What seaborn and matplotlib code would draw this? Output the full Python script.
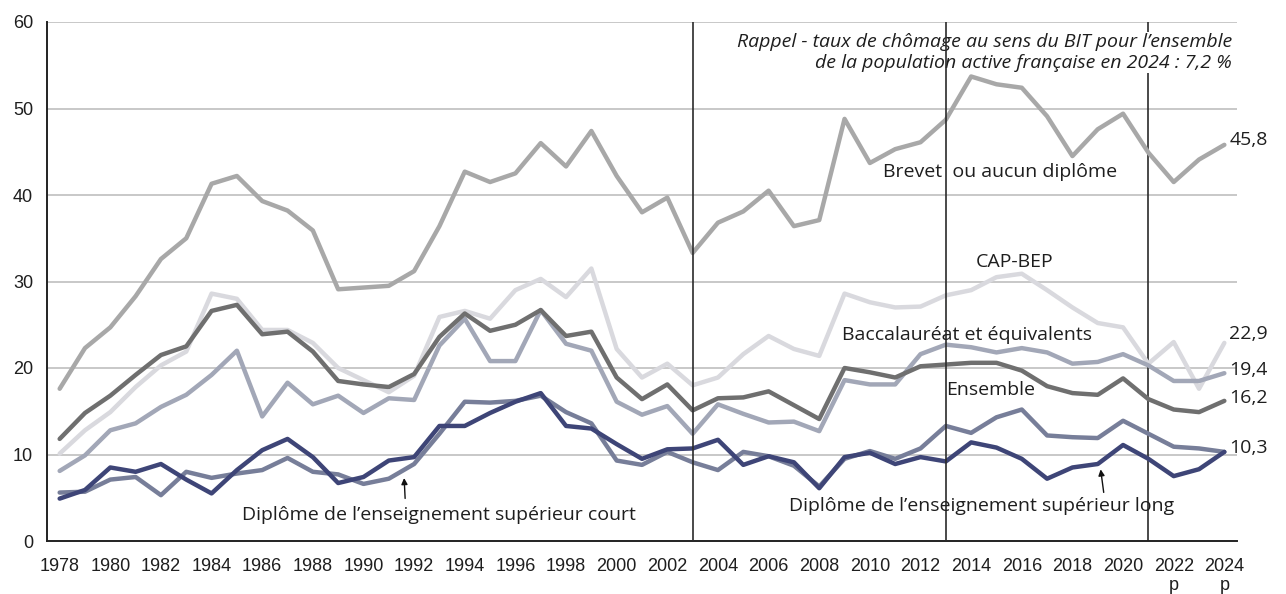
import numpy as np
import pandas as pd
import matplotlib
matplotlib.use("Agg")
import matplotlib.pyplot as plt
from matplotlib import font_manager
import seaborn as sns

years = list(range(1978, 2025))

brevet = [17.6, 22.3, 24.7, 28.3, 32.6, 35.0, 41.3, 42.2, 39.3, 38.2, 35.9, 29.1, 29.3, 29.5, 31.2, 36.4,
          42.7, 41.5, 42.5, 46.0, 43.3, 47.4, 42.2, 38.0, 39.7, 33.3, 36.8, 38.1, 40.5, 36.4, 37.1, 48.8,
          43.7, 45.3, 46.1, 48.7, 53.7, 52.8, 52.4, 49.1, 44.5, 47.6, 49.4, 44.9, 41.5, 44.1, 45.8]
cap_bep = [10.1, 12.8, 14.9, 17.8, 20.3, 21.9, 28.6, 28.0, 24.4, 24.4, 22.9, 20.0, 18.6, 17.2, 19.1, 25.9,
           26.6, 25.7, 29.0, 30.3, 28.2, 31.5, 22.2, 18.9, 20.5, 18.0, 18.9, 21.6, 23.7, 22.2, 21.4, 28.6,
           27.6, 27.0, 27.1, 28.4, 29.0, 30.5, 30.9, 29.0, 27.0, 25.2, 24.7, 20.5, 23.0, 17.6, 22.9]
bac = [8.1, 9.9, 12.8, 13.6, 15.5, 16.9, 19.2, 22.0, 14.4, 18.3, 15.8, 16.8, 14.8, 16.5, 16.3, 22.6,
       25.7, 20.8, 20.8, 26.7, 22.8, 22.0, 16.1, 14.6, 15.6, 12.4, 15.8, 14.7, 13.7, 13.8, 12.7, 18.6,
       18.1, 18.1, 21.6, 22.7, 22.4, 21.8, 22.3, 21.8, 20.5, 20.7, 21.6, 20.3, 18.5, 18.5, 19.4]
ensemble = [11.8, 14.8, 16.8, 19.2, 21.5, 22.5, 26.6, 27.3, 23.9, 24.2, 21.9, 18.5, 18.1, 17.8, 19.3, 23.6,
            26.3, 24.3, 25.0, 26.7, 23.7, 24.2, 18.9, 16.4, 18.1, 15.1, 16.5, 16.6, 17.3, 15.7, 14.1, 20.0,
            19.5, 18.9, 20.2, 20.4, 20.6, 20.6, 19.7, 17.9, 17.1, 16.9, 18.8, 16.4, 15.2, 14.9, 16.2]
sup_court = [5.6, 5.7, 7.1, 7.4, 5.3, 8.0, 7.3, 7.8, 8.2, 9.6, 8.0, 7.7, 6.6, 7.2, 8.9, 12.4,
             16.1, 16.0, 16.2, 16.8, 14.9, 13.6, 9.3, 8.8, 10.3, 9.1, 8.2, 10.3, 9.8, 8.7, 6.3, 9.5,
             10.4, 9.5, 10.7, 13.3, 12.5, 14.3, 15.2, 12.2, 12.0, 11.9, 13.9, 12.4, 10.9, 10.7, 10.3]
sup_long = [4.9, 5.9, 8.5, 8.0, 8.9, 7.1, 5.5, 8.2, 10.5, 11.8, 9.7, 6.7, 7.4, 9.3, 9.7, 13.3,
            13.3, 14.8, 16.1, 17.1, 13.3, 13.0, 11.2, 9.5, 10.6, 10.7, 11.7, 8.8, 9.8, 9.1, 6.1, 9.7,
            10.2, 8.9, 9.7, 9.2, 11.4, 10.8, 9.5, 7.2, 8.5, 8.9, 11.1, 9.5, 7.5, 8.3, 10.3]

series_names = ["Brevet", "CAP-BEP", "Bac", "Ensemble", "Sup court", "Sup long"]
series_values = [brevet, cap_bep, bac, ensemble, sup_court, sup_long]
colors = ["#a8a8a8", "#d9d9de", "#a2a7b7", "#6f6f6f", "#777e99", "#3e4577"]
end_labels = ["45,8", "22,9", "19,4", "16,2", "10,3"]
break_years = [2003, 2013, 2021]

df = pd.concat([pd.DataFrame({"annee": years, "taux": v, "serie": n})
                for n, v in zip(series_names, series_values)], ignore_index=True)

sns.set_theme(style="white")
names = {f.name for f in font_manager.fontManager.ttflist}
main_font = "Open Sans" if "Open Sans" in names else "DejaVu Sans"
tick_font = "Liberation Sans" if "Liberation Sans" in names else "DejaVu Sans"
plt.rcParams["font.family"] = [main_font, "DejaVu Sans"]

fig = plt.figure(figsize=(12.86, 5.94), dpi=100)
ax = fig.add_axes([47 / 1286, 1 - 541 / 594, (1237 - 47) / 1286, (541 - 22) / 594])

sns.lineplot(data=df, x="annee", y="taux", hue="serie", hue_order=series_names,
             palette=dict(zip(series_names, colors)), linewidth=3.2, legend=False, ax=ax,
             zorder=3)

ax.set_xlim(1977.5, 2024.5)
ax.set_ylim(0, 60)
ax.set_xlabel("")
ax.set_ylabel("")

# grid
for v in range(10, 61, 10):
    ax.axhline(v, color="#c4c4c4", lw=1.3, zorder=1)

# break lines
for i, by in enumerate(break_years):
    ax.axvline(by, color="#2b2b2b", lw=1.2, zorder=6 if i < 2 else 2)

for s in ["top", "right"]:
    ax.spines[s].set_visible(False)
ax.spines["left"].set_color("#222222")
ax.spines["left"].set_linewidth(1.4)
ax.spines["bottom"].set_color("#222222")
ax.spines["bottom"].set_linewidth(1.4)

ax.set_yticks(range(0, 61, 10))
ax.set_yticklabels([str(v) for v in range(0, 61, 10)], fontsize=13, family=[tick_font, "DejaVu Sans"],
                   color="#1e1e1e")
ax.tick_params(axis="y", length=0, pad=10)

xt = list(range(1978, 2025, 2))
xlabels = [f"{y}\np" if y in (2022, 2024) else str(y) for y in xt]
ax.set_xticks(xt)
ax.set_xticklabels(xlabels, fontsize=13, family=[tick_font, "DejaVu Sans"], linespacing=1.15,
                   color="#1e1e1e")
ax.set_xticks(np.arange(1977.5, 2025, 1.0), minor=True)
ax.tick_params(axis="x", which="major", length=0, pad=12)
ax.tick_params(axis="x", which="minor", length=9, width=1.1, color="#222222", direction="out")

fs = 14
tkw = dict(fontsize=fs, color="#1e1e1e", zorder=7)
ax.text(2024.31, 56.5, "Rappel - taux de chômage au sens du BIT pour l’ensemble\n"
        "de la population active française en 2024 : 7,2 %",
        ha="right", va="center", style="italic", fontsize=14, color="#1e1e1e", linespacing=1.25,
        zorder=5, bbox=dict(facecolor="white", edgecolor="none", pad=0.5))
ax.text(2010.5, 42.7, "Brevet  ou aucun diplôme", ha="left", va="center", **tkw)
ax.text(2014.2, 32.3, "CAP-BEP", ha="left", va="center", **tkw)
ax.text(2008.9, 23.8, "Baccalauréat et équivalents", ha="left", va="center", **tkw)
ax.text(2013.0, 17.5, "Ensemble", ha="left", va="center", **tkw)
ax.text(1985.2, 3.0, "Diplôme de l’enseignement supérieur court", ha="left", va="center", **tkw)
ax.text(2006.8, 4.05, "Diplôme de l’enseignement supérieur long", ha="left", va="center", **tkw)

end_vals = [brevet[-1], cap_bep[-1], bac[-1], ensemble[-1], sup_long[-1]]
end_offsets = [0.55, 1.0, 0.4, 0.35, 0.45]
for lab, v, off in zip(end_labels, end_vals, end_offsets):
    ax.text(2024.2, v + off, lab, ha="left", va="center", clip_on=False, **tkw)

arrow = dict(arrowstyle="-|>", color="#111111", lw=1.0, mutation_scale=9)
ax.annotate("", xy=(1991.6, 7.6), xytext=(1991.65, 4.6), arrowprops=arrow, zorder=7)
ax.annotate("", xy=(2019.1, 8.6), xytext=(2019.25, 5.3), arrowprops=arrow, zorder=7)

fig.savefig("out.png", dpi=100)
